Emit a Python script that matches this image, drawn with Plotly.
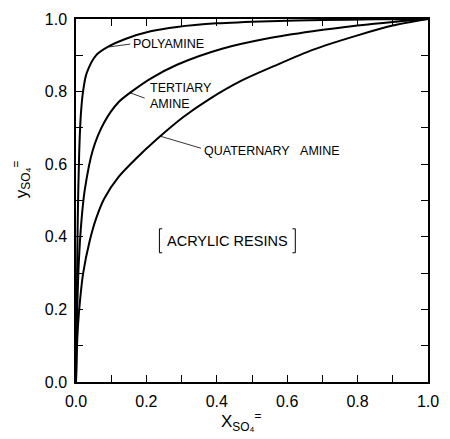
import plotly.graph_objects as go

# Sulfate equilibrium isotherms for three acrylic anion-exchange resins
poly_x = [0, 0.002, 0.005, 0.009, 0.014, 0.02, 0.03, 0.057, 0.094, 0.14,
          0.212, 0.287, 0.4, 0.55, 0.7, 0.85, 1.0]
poly_y = [0, 0.2, 0.45, 0.63, 0.74, 0.8, 0.85, 0.9, 0.925, 0.945,
          0.966, 0.978, 0.988, 0.994, 0.997, 0.999, 1.0]

tert_x = [0, 0.003, 0.008, 0.016, 0.025, 0.048, 0.08, 0.12, 0.158, 0.212,
          0.287, 0.415, 0.543, 0.672, 0.8, 0.9, 1.0]
tert_y = [0, 0.18, 0.33, 0.45, 0.53, 0.64, 0.715, 0.77, 0.80, 0.836,
          0.874, 0.918, 0.946, 0.966, 0.982, 0.992, 1.0]

quat_x = [0, 0.002, 0.006, 0.012, 0.02, 0.039, 0.057, 0.08, 0.121, 0.17,
          0.231, 0.305, 0.38, 0.47, 0.562, 0.672, 0.8, 0.9, 1.0]
quat_y = [0, 0.08, 0.16, 0.23, 0.298, 0.389, 0.45, 0.505, 0.565, 0.615,
          0.67, 0.73, 0.78, 0.83, 0.87, 0.915, 0.955, 0.982, 1.0]

tick_vals = [0.0, 0.2, 0.4, 0.6, 0.8, 1.0]
tick_text = ["0.0", "0.2", "0.4", "0.6", "0.8", "1.0"]

FONT = "Liberation Sans"
INK = "black"

fig = go.Figure()
for xs, ys in [(poly_x, poly_y), (tert_x, tert_y), (quat_x, quat_y)]:
    fig.add_trace(go.Scatter(x=xs, y=ys, mode="lines",
                             line=dict(color=INK, width=2, shape="spline", smoothing=0.8),
                             showlegend=False, hoverinfo="skip"))

axis_common = dict(range=[0, 1], tickvals=tick_vals, ticktext=tick_text,
                   ticks="inside", ticklen=7, tickwidth=1.2, tickcolor=INK,
                   minor=dict(ticks="inside", dtick=0.1, tick0=0, ticklen=7,
                              tickwidth=1.2, tickcolor=INK, showgrid=False),
                   showline=True, linecolor=INK, linewidth=1.5, mirror="ticks",
                   showgrid=False, zeroline=False, fixedrange=True,
                   tickfont=dict(family=FONT, size=16, color=INK))

fig.update_layout(
    width=450, height=439,
    margin=dict(l=76, r=11, t=17, b=57),
    paper_bgcolor="white", plot_bgcolor="white",
    xaxis=dict(**axis_common, ticklabelstandoff=4),
    yaxis=dict(**axis_common, ticklabelstandoff=4),
)

# Leader lines from each curve to its label
leaders = [((0.094, 0.923), (0.154, 0.931)),
           ((0.153, 0.797), (0.195, 0.782)),
           ((0.240, 0.677), (0.355, 0.644))]
for (x0, y0), (x1, y1) in leaders:
    fig.add_shape(type="line", x0=x0, y0=y0, x1=x1, y1=y1,
                  line=dict(color=INK, width=0.8))

label_font = dict(family=FONT, size=12.5, color=INK)
fig.add_annotation(x=0.157, y=0.931, text="POLYAMINE", showarrow=False,
                   xanchor="left", yanchor="middle", font=label_font)
fig.add_annotation(x=0.204, y=0.789, text="TERTIARY<br>AMINE", showarrow=False,
                   xanchor="left", yanchor="middle", align="left", font=label_font)
fig.add_annotation(x=0.358, y=0.636, text="QUATERNARY\u00a0\u00a0\u00a0AMINE",
                   showarrow=False, xanchor="left", yanchor="middle", font=label_font)

# Bracketed resin-type note
fig.add_shape(type="path", path="M 0.245,0.422 L 0.237,0.422 L 0.237,0.356 L 0.245,0.356",
              line=dict(color=INK, width=1))
fig.add_shape(type="path", path="M 0.615,0.422 L 0.623,0.422 L 0.623,0.356 L 0.615,0.356",
              line=dict(color=INK, width=1))
fig.add_annotation(x=0.43, y=0.389, text="ACRYLIC RESINS", showarrow=False,
                   xanchor="center", yanchor="middle",
                   font=dict(family=FONT, size=14.5, color=INK))

# Axis titles
fig.add_annotation(xref="paper", yref="paper", x=0.47, y=-0.11,
                   text="X<sub>SO₄</sub><sup>=</sup>", showarrow=False,
                   xanchor="center", yanchor="middle",
                   font=dict(family=FONT, size=17, color=INK))
fig.add_annotation(xref="paper", yref="paper", x=-0.155, y=0.56,
                   text="y<sub>SO₄</sub><sup>=</sup>", showarrow=False, textangle=-90,
                   xanchor="center", yanchor="middle",
                   font=dict(family=FONT, size=17, color=INK))

fig.write_html("out.html")
